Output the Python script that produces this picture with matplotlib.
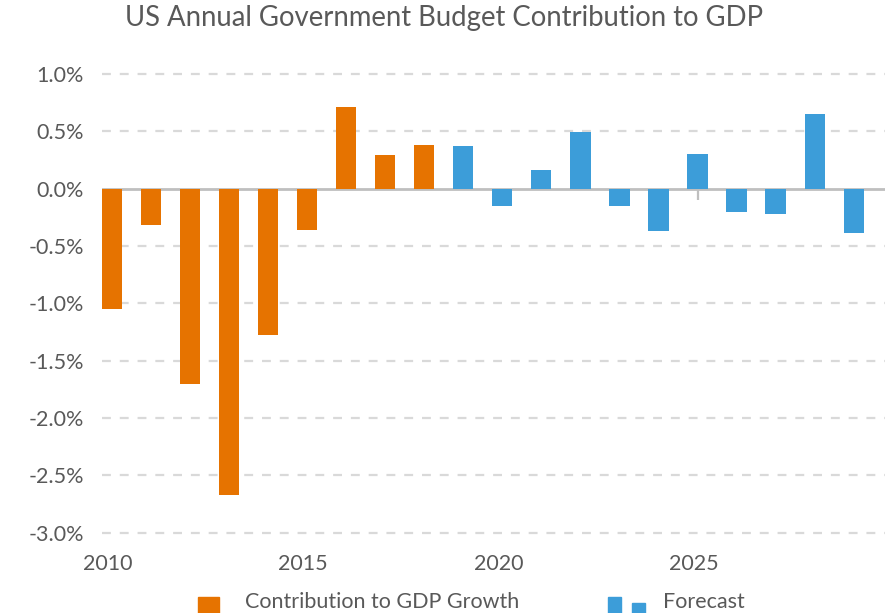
import matplotlib
matplotlib.use("Agg")
import matplotlib.pyplot as plt
from matplotlib.patches import Rectangle
from matplotlib.ticker import FuncFormatter
from matplotlib.transforms import ScaledTranslation

# Annual contribution of government budget to US GDP growth (percentage points)
actual_years = [2010, 2011, 2012, 2013, 2014, 2015, 2016, 2017, 2018]
actual_values = [-1.05, -0.32, -1.70, -2.67, -1.28, -0.36, 0.71, 0.29, 0.38]

forecast_years = [2019, 2020, 2021, 2022, 2023, 2024, 2025, 2026, 2027, 2028, 2029]
forecast_values = [0.37, -0.15, 0.16, 0.49, -0.15, -0.37, 0.30, -0.20, -0.22, 0.65, -0.39]

x_ticks = [2010, 2015, 2020, 2025]
y_ticks = [1.0, 0.5, 0.0, -0.5, -1.0, -1.5, -2.0, -2.5, -3.0]

title = "US Annual Government Budget Contribution to GDP"
actual_label = "Contribution to GDP Growth"
forecast_label = "Forecast"

ORANGE = "#E67300"
BLUE = "#3C9DD9"
TEXT = "#595959"
GRID = "#d9d9d9"
ZERO = "#bfbfbf"

plt.rcParams["font.family"] = ["Lato", "DejaVu Sans"]

W, H = 888, 613
fig = plt.figure(figsize=(W / 100, H / 100), dpi=100)

left, right = 102 / W, 885 / W
bottom, top = 1 - 544.2 / H, 1 - 62.5 / H
ax = fig.add_axes([left, bottom, right - left, top - bottom])

ax.set_xlim(2009.75, 2029.8)
ax.set_ylim(-3.1, 1.1)

# dashed horizontal gridlines
for v in y_ticks:
    if v != 0:
        ax.axhline(v, color=GRID, lw=1.6, ls=(0, (4, 4)), zorder=0)

# tick marks along the zero line
for yr in x_ticks:
    ax.plot([yr, yr], [0, -0.1], color=ZERO, lw=1.6, zorder=1, solid_capstyle="butt")
ax.axhline(0, color=ZERO, lw=2, zorder=1)

ax.bar(actual_years, actual_values, width=0.52, color=ORANGE, zorder=2)
ax.bar(forecast_years, forecast_values, width=0.52, color=BLUE, zorder=2)

for s in ax.spines.values():
    s.set_visible(False)

ax.set_yticks(y_ticks)
ax.yaxis.set_major_formatter(FuncFormatter(lambda v, p: f"{v:.1f}%"))
ax.set_xticks(x_ticks)
ax.set_xticklabels([str(t) for t in x_ticks])
ax.tick_params(axis="both", length=0, colors=TEXT, labelsize=15.5)
ax.tick_params(axis="y", pad=13)
ax.tick_params(axis="x", pad=7)
shift = ScaledTranslation(-4 / 100, 0, fig.dpi_scale_trans)
for lbl in ax.get_xticklabels():
    lbl.set_transform(lbl.get_transform() + shift)

fig.text(0.5, 1 - 18 / H, title, ha="center", va="center",
         fontsize=19.8, color=TEXT)

# legend
fig.patches.append(Rectangle((198 / W, 1 - 613 / H), 21 / W, 16 / H,
                             transform=fig.transFigure, color=ORANGE, figure=fig))
fig.text(245 / W, 1 - 602 / H, actual_label, ha="left", va="center",
         fontsize=15.5, color=TEXT)
fig.patches.append(Rectangle((608 / W, 1 - 613 / H), 13 / W, 16 / H,
                             transform=fig.transFigure, color=BLUE, figure=fig))
fig.patches.append(Rectangle((632 / W, 1 - 613 / H), 13 / W, 10 / H,
                             transform=fig.transFigure, color=BLUE, figure=fig))
fig.text(663 / W, 1 - 602 / H, forecast_label, ha="left", va="center",
         fontsize=15.5, color=TEXT)

fig.savefig("out.png", dpi=100)
